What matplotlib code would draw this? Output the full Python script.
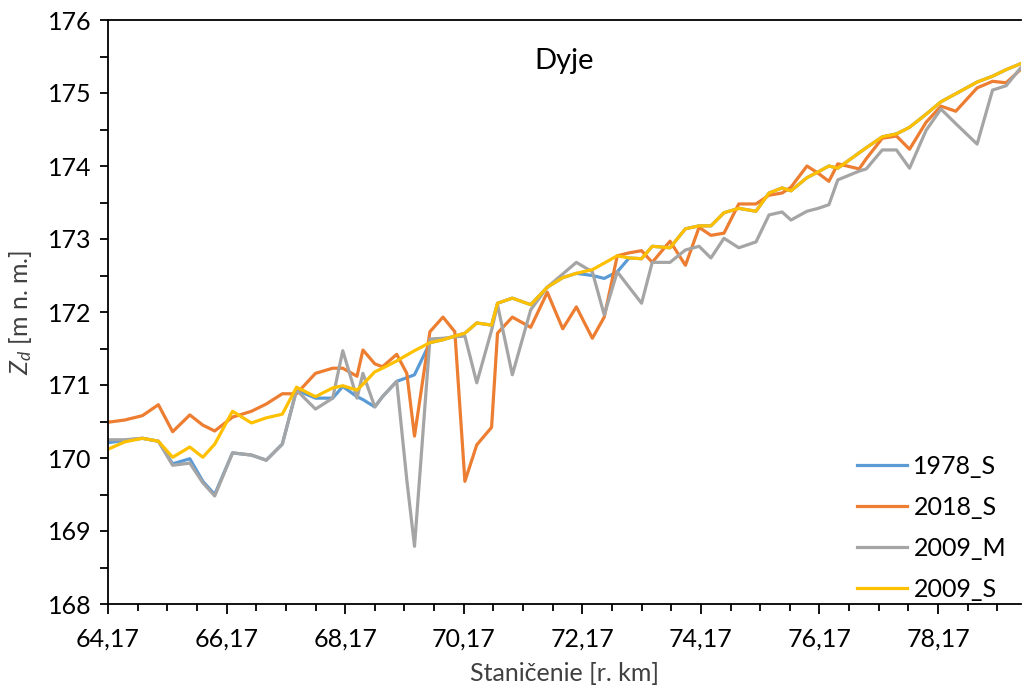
import numpy as np
import matplotlib
matplotlib.use("Agg")
import matplotlib.pyplot as plt
from matplotlib.ticker import FixedLocator, MultipleLocator, FuncFormatter

plt.rcParams['font.family'] = ['Lato', 'DejaVu Sans']
plt.rcParams['mathtext.fontset'] = 'custom'
plt.rcParams['mathtext.it'] = 'Lato:italic'
plt.rcParams['mathtext.rm'] = 'Lato'

# River stationing [r. km]
km = [64.17, 64.45, 64.75, 65.02, 65.26, 65.55, 65.77, 65.97, 66.27, 66.59,
      66.84, 67.11, 67.35, 67.67, 67.96, 68.13, 68.37, 68.47, 68.67, 68.80,
      69.04, 69.21, 69.34, 69.60, 69.82, 70.02, 70.19, 70.39, 70.64, 70.74,
      70.99, 71.30, 71.58, 71.84, 72.07, 72.34, 72.54, 72.76, 72.96, 73.17,
      73.35, 73.65, 73.91, 74.14, 74.34, 74.56, 74.81, 75.10, 75.32, 75.54,
      75.69, 75.96, 76.15, 76.33, 76.48, 76.84, 76.96, 77.23, 77.47, 77.69,
      77.97, 78.22, 78.47, 78.83, 79.09, 79.32, 79.56]

# Bed elevation Z_d [m n. m.]
z_1978_s = [170.21, 170.24, 170.27, 170.23, 169.92, 169.99, 169.68, 169.50, 170.07, 170.04,
            169.97, 170.19, 170.93, 170.82, 170.82, 170.98, 170.84, 170.80, 170.70, 170.84,
            171.05, 171.10, 171.14, 171.58, 171.62, 171.67, 171.71, 171.85, 171.82, 172.12,
            172.19, 172.10, 172.34, 172.47, 172.53, 172.50, 172.46, 172.55, 172.74, 172.73,
            172.90, 172.88, 173.14, 173.18, 173.18, 173.36, 173.42, 173.38, 173.63, 173.70,
            173.66, 173.84, 173.92, 174.00, 173.97, 174.18, 174.25, 174.40, 174.44, 174.53,
            174.71, 174.88, 174.99, 175.15, 175.23, 175.32, 175.40]

z_2018_s = [170.49, 170.52, 170.58, 170.73, 170.36, 170.59, 170.45, 170.37, 170.56, 170.64,
            170.74, 170.88, 170.88, 171.16, 171.23, 171.23, 171.12, 171.48, 171.29, 171.25,
            171.42, 171.16, 170.30, 171.73, 171.93, 171.73, 169.68, 170.18, 170.42, 171.71,
            171.93, 171.79, 172.27, 171.77, 172.07, 171.64, 171.93, 172.77, 172.81, 172.84,
            172.68, 172.97, 172.64, 173.16, 173.05, 173.08, 173.48, 173.48, 173.60, 173.63,
            173.71, 174.00, 173.90, 173.79, 174.03, 173.96, 174.10, 174.38, 174.41, 174.23,
            174.60, 174.82, 174.75, 175.07, 175.16, 175.14, 175.32]

z_2009_m = [170.25, 170.25, 170.27, 170.23, 169.90, 169.93, 169.66, 169.48, 170.07, 170.04,
            169.97, 170.19, 170.93, 170.67, 170.82, 171.47, 170.82, 171.16, 170.70, 170.84,
            171.05, 169.70, 168.79, 171.63, 171.64, 171.66, 171.67, 171.03, 171.75, 172.10,
            171.14, 172.03, 172.34, 172.52, 172.68, 172.55, 171.96, 172.55, 172.34, 172.12,
            172.68, 172.68, 172.85, 172.90, 172.74, 173.01, 172.88, 172.96, 173.33, 173.37,
            173.26, 173.38, 173.42, 173.47, 173.81, 173.93, 173.96, 174.22, 174.22, 173.97,
            174.49, 174.78, 174.58, 174.30, 175.04, 175.10, 175.34]

z_2009_s = [170.12, 170.22, 170.27, 170.23, 170.01, 170.15, 170.01, 170.19, 170.64, 170.48,
            170.55, 170.60, 170.97, 170.84, 170.96, 170.99, 170.93, 171.01, 171.18, 171.23,
            171.33, 171.41, 171.47, 171.58, 171.62, 171.67, 171.71, 171.85, 171.82, 172.12,
            172.19, 172.10, 172.34, 172.47, 172.53, 172.58, 172.67, 172.77, 172.74, 172.73,
            172.90, 172.88, 173.14, 173.18, 173.18, 173.36, 173.42, 173.38, 173.63, 173.70,
            173.66, 173.84, 173.92, 174.00, 173.97, 174.18, 174.25, 174.40, 174.44, 174.53,
            174.71, 174.88, 174.99, 175.15, 175.23, 175.32, 175.40]

series = [("1978_S", z_1978_s, "#5B9BD5"),
          ("2018_S", z_2018_s, "#ED7D31"),
          ("2009_M", z_2009_m, "#A5A5A5"),
          ("2009_S", z_2009_s, "#FFC000")]

fig = plt.figure(figsize=(10.22, 6.88), dpi=100)
ax = fig.add_axes([108 / 1022, 1 - 604 / 688, (1021 - 108) / 1022, (604 - 20) / 688])

for name, z, col in series:
    ax.plot(km, z, color=col, lw=2.3, label=name, solid_joinstyle='round')

ax.set_xlim(64.17, 79.57)
ax.set_ylim(168, 176)

fs = 18
ax.xaxis.set_major_locator(FixedLocator(np.arange(64.17, 79.6, 2.0)))
ax.xaxis.set_minor_locator(FixedLocator(np.arange(64.17, 79.6, 0.5)))
ax.xaxis.set_major_formatter(FuncFormatter(lambda v, p: f"{v:.2f}".replace('.', ',')))
ax.yaxis.set_major_locator(MultipleLocator(1))
ax.yaxis.set_minor_locator(MultipleLocator(0.5))

ax.tick_params(axis='both', which='major', direction='out', length=7, width=1.3,
               labelsize=fs, colors='#000000')
ax.tick_params(axis='both', which='minor', direction='out', length=5, width=1.3)
ax.tick_params(axis='x', which='major', pad=10)
ax.tick_params(axis='y', which='both', length=6)
ax.tick_params(axis='y', which='major', pad=6)

ax.spines['right'].set_visible(False)
for s in ('left', 'bottom', 'top'):
    ax.spines[s].set_linewidth(1.3)

ax.set_xlabel("Staničenie [r. km]", fontsize=fs, labelpad=8, color='#404040')
ax.set_ylabel(r"$Z_d$ [m n. m.]", fontsize=fs, labelpad=10, color='#404040')

ax.text(0.5, 0.93, "Dyje", transform=ax.transAxes, ha='center', va='center', fontsize=21)

ax.legend(loc='lower right', bbox_to_anchor=(1.0, -0.02), frameon=False, fontsize=fs,
          handlelength=2.0, handletextpad=0.25, labelspacing=0.72, borderaxespad=0.2)

fig.savefig("out.png", dpi=100)
